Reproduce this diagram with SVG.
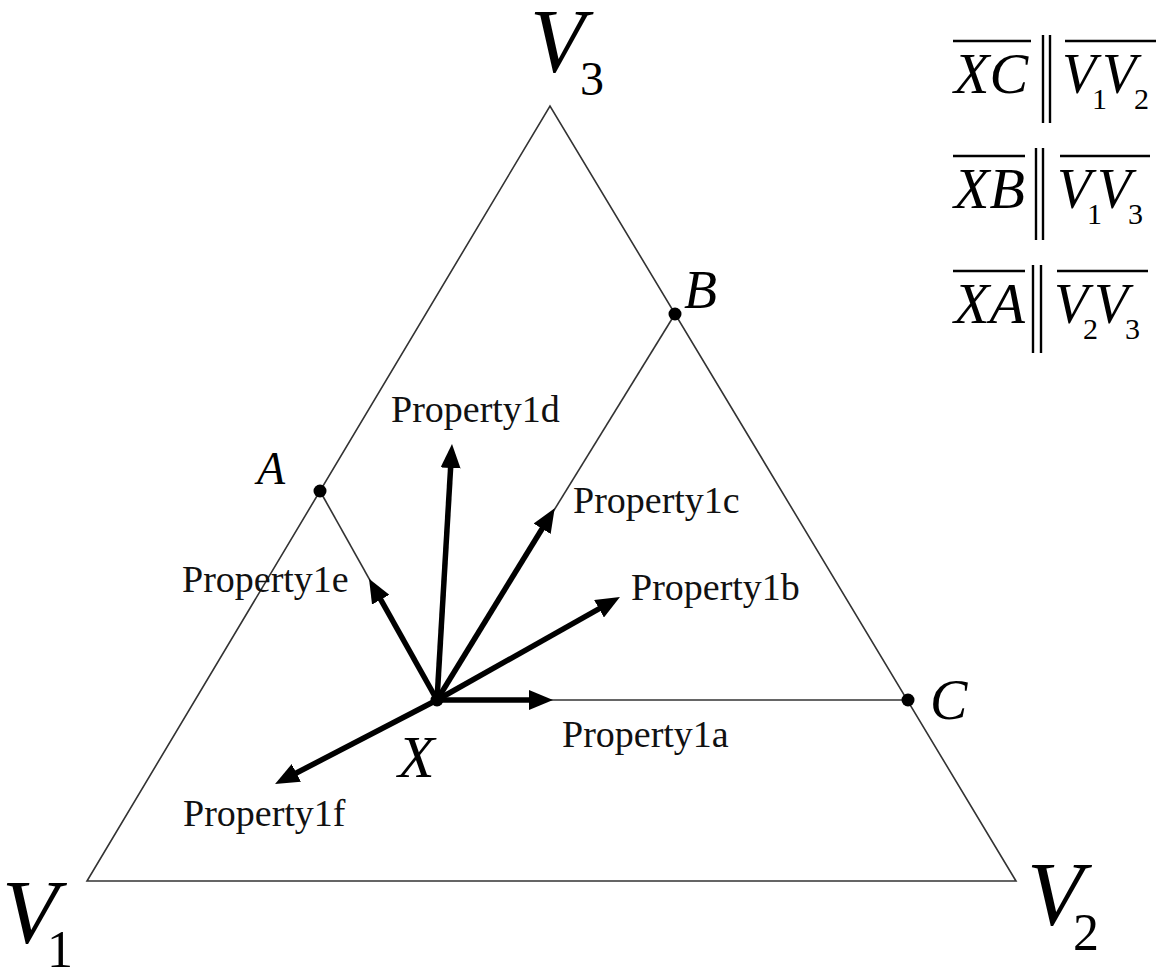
<svg xmlns="http://www.w3.org/2000/svg" width="1163" height="976" viewBox="0 0 1163 976">
<style>
  .thin { stroke: #333; stroke-width: 1.6; fill: none; }
  .vec { stroke: #000; stroke-width: 5.5; fill: none; marker-end: url(#ah); }
  .bar { stroke: #000; stroke-width: 2.4; }
  .lbl { font-family: "Liberation Serif", "Times New Roman", serif; font-size: 38px; fill: #111; }
  .it { font-family: "Liberation Serif", "Times New Roman", serif; font-style: italic; fill: #000; }
  .rm { font-family: "Liberation Serif", "Times New Roman", serif; fill: #000; }
  .dot { fill: #000; }
</style>
<defs>
  <marker id="ah" markerUnits="userSpaceOnUse" viewBox="0 0 24 20" refX="12" refY="10" markerWidth="24" markerHeight="20" orient="auto">
    <path d="M0,0 L24,10 L0,20 z" fill="#000"/>
  </marker>
</defs>
<rect width="1163" height="976" fill="#fff"/>

<g id="triangle">
  <polygon class="thin" points="87,881 1016,881 550,106"/>
</g>

<g id="connectors">
  <line class="thin" x1="437" y1="700" x2="320" y2="491"/>
  <line class="thin" x1="437" y1="700" x2="675" y2="314"/>
  <line class="thin" x1="437" y1="700" x2="907" y2="700"/>
  <line class="vec" x1="437" y1="700" x2="541" y2="700"/>
  <line class="vec" x1="437" y1="700" x2="609.5" y2="602.9"/>
  <line class="vec" x1="437" y1="700" x2="548.4" y2="518.5"/>
  <line class="vec" x1="437" y1="700" x2="451.3" y2="456"/>
  <line class="vec" x1="437" y1="700" x2="374.9" y2="589.2"/>
  <line class="vec" x1="437" y1="700" x2="285.7" y2="778.5"/>
</g>

<g id="node-X">
  <circle class="dot" cx="437" cy="700" r="6.5"/>
  <text class="it" x="398" y="777" font-size="60">X</text>
</g>
<g id="node-A">
  <circle class="dot" cx="320" cy="491" r="6.5"/>
  <text class="it" x="257" y="484" font-size="46">A</text>
</g>
<g id="node-B">
  <circle class="dot" cx="675" cy="314" r="6.5"/>
  <text class="it" x="684" y="308" font-size="54">B</text>
</g>
<g id="node-C">
  <circle class="dot" cx="908" cy="700" r="6.5"/>
  <text class="it" x="930" y="719" font-size="56">C</text>
</g>

<g id="node-V1">
  <text class="it" x="2" y="943" font-size="92">V</text>
  <text class="rm" x="47" y="967" font-size="52">1</text>
</g>
<g id="node-V2">
  <text class="it" x="1027" y="925" font-size="92">V</text>
  <text class="rm" x="1073" y="950" font-size="52">2</text>
</g>
<g id="node-V3">
  <text class="it" x="530" y="72" font-size="90">V</text>
  <text class="rm" x="580" y="95" font-size="48">3</text>
</g>

<g id="labels">
  <text class="lbl" x="562" y="747">Property1a</text>
  <text class="lbl" x="631" y="600">Property1b</text>
  <text class="lbl" x="573" y="513">Property1c</text>
  <text class="lbl" x="391" y="422">Property1d</text>
  <text class="lbl" x="182" y="592">Property1e</text>
  <text class="lbl" x="183" y="826">Property1f</text>
</g>

<g id="legend">
  <g id="row1">
    <line class="bar" x1="953" y1="41" x2="1031" y2="41"/>
    <text class="it" x="954" y="93" font-size="58">XC</text>
    <line class="bar" x1="1043" y1="35" x2="1043" y2="123"/>
    <line class="bar" x1="1050" y1="35" x2="1050" y2="123"/>
    <line class="bar" x1="1065" y1="41" x2="1156" y2="41"/>
    <text class="it" x="1062" y="93" font-size="56">V</text>
    <text class="rm" x="1092" y="109" font-size="30">1</text>
    <text class="it" x="1102" y="93" font-size="56">V</text>
    <text class="rm" x="1134" y="109" font-size="30">2</text>
  </g>
  <g id="row2">
    <line class="bar" x1="953" y1="156" x2="1025" y2="156"/>
    <text class="it" x="954" y="208" font-size="58">XB</text>
    <line class="bar" x1="1036" y1="148" x2="1036" y2="240"/>
    <line class="bar" x1="1043" y1="148" x2="1043" y2="240"/>
    <line class="bar" x1="1060" y1="156" x2="1150" y2="156"/>
    <text class="it" x="1057" y="208" font-size="56">V</text>
    <text class="rm" x="1087" y="224" font-size="30">1</text>
    <text class="it" x="1097" y="208" font-size="56">V</text>
    <text class="rm" x="1128" y="224" font-size="30">3</text>
  </g>
  <g id="row3">
    <line class="bar" x1="953" y1="271" x2="1025" y2="271"/>
    <text class="it" x="954" y="323" font-size="58">XA</text>
    <line class="bar" x1="1033" y1="265" x2="1033" y2="353"/>
    <line class="bar" x1="1041" y1="265" x2="1041" y2="353"/>
    <line class="bar" x1="1057" y1="271" x2="1148" y2="271"/>
    <text class="it" x="1054" y="323" font-size="56">V</text>
    <text class="rm" x="1083" y="339" font-size="30">2</text>
    <text class="it" x="1094" y="323" font-size="56">V</text>
    <text class="rm" x="1125" y="339" font-size="30">3</text>
  </g>
</g>
</svg>
